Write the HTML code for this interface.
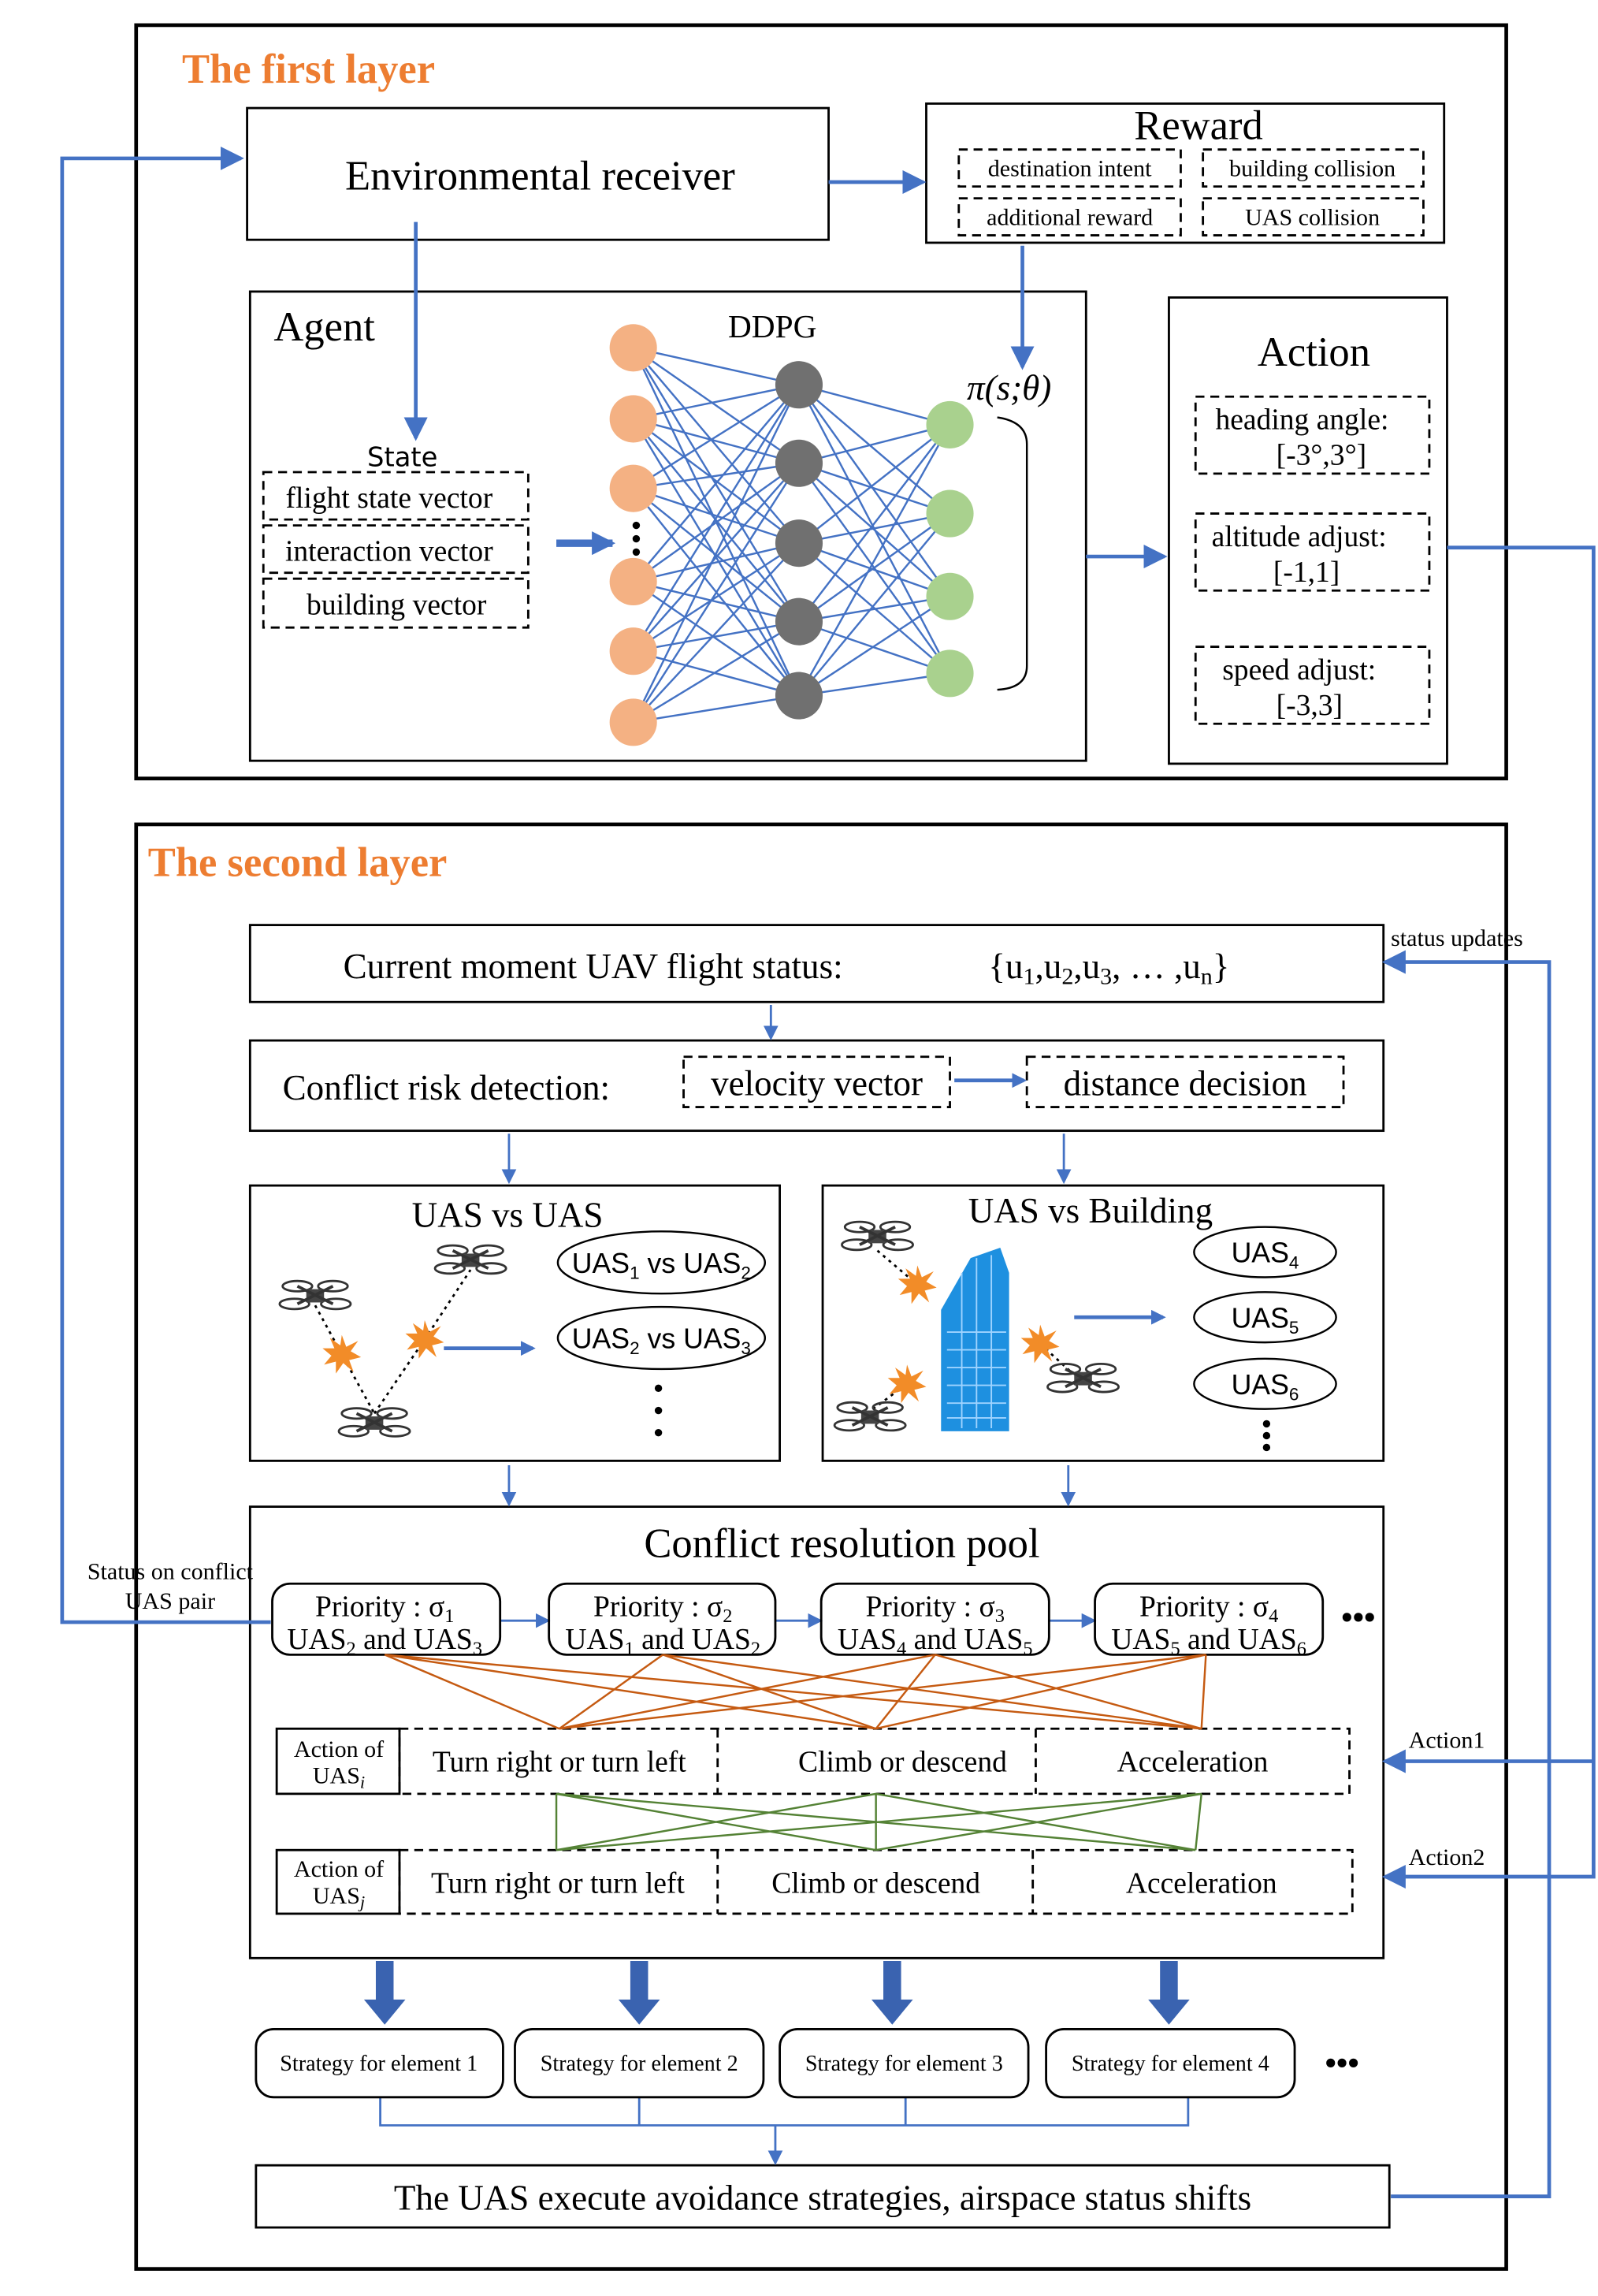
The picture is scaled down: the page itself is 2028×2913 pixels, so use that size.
<!DOCTYPE html>
<html><head><meta charset="utf-8"><style>html,body{margin:0;padding:0;background:#fff}svg{display:block}</style></head>
<body>
<svg width="2028" height="2913" viewBox="0 0 1080 1551.3" xmlns="http://www.w3.org/2000/svg" font-family="Liberation Serif, serif">
<defs>
<marker id="a" markerWidth="10" markerHeight="10" refX="8" refY="5" orient="auto" markerUnits="userSpaceOnUse"><path d="M0,0 L10,5 L0,10 z" fill="#4472C4"/></marker>
<marker id="b" markerWidth="16" markerHeight="16" refX="14" refY="8" orient="auto" markerUnits="userSpaceOnUse"><path d="M0,0 L16,8 L0,16 z" fill="#4472C4"/></marker>
<g id="dr">
<ellipse cx="-12" cy="-7" rx="10" ry="3.5" fill="none" stroke="#333" stroke-width="1.5"/>
<ellipse cx="12" cy="-7" rx="10" ry="3.5" fill="none" stroke="#333" stroke-width="1.5"/>
<ellipse cx="-14" cy="5" rx="10" ry="3.5" fill="none" stroke="#333" stroke-width="1.5"/>
<ellipse cx="14" cy="5" rx="10" ry="3.5" fill="none" stroke="#333" stroke-width="1.5"/>
<rect x="-6" y="-5" width="12" height="9" fill="#444"/>
<line x1="-12" y1="-7" x2="12" y2="5" stroke="#333" stroke-width="2"/>
<line x1="12" y1="-7" x2="-12" y2="5" stroke="#333" stroke-width="2"/>
</g>
<polygon id="ex" points="0,-13 3,-5 11,-9 6,-2 13,2 5,4 8,12 1,6 -4,13 -4,5 -12,7 -7,1 -13,-4 -5,-4 -8,-11 -1,-6" fill="#F28C28"/>
</defs>
<rect width="1080" height="1552" fill="#fff"/>
<g fill="none" stroke="#000" stroke-width="2.5">
<rect x="92" y="17" width="926" height="509"/>
<rect x="92" y="557" width="926" height="976"/>
</g>
<text x="123" y="56" font-size="28" font-weight="bold" fill="#ED7D31">The first layer</text>
<text x="100" y="592" font-size="28" font-weight="bold" fill="#ED7D31">The second layer</text>
<g fill="none" stroke="#000" stroke-width="1.5">
<rect x="167" y="73" width="393" height="89"/>
<rect x="626" y="70" width="350" height="94"/>
<rect x="169" y="197" width="565" height="317"/>
<rect x="790" y="201" width="188" height="315"/>
<rect x="169" y="625" width="766" height="52"/>
<rect x="169" y="703" width="766" height="61"/>
<rect x="169" y="801" width="358" height="186"/>
<rect x="556" y="801" width="379" height="186"/>
<rect x="169" y="1018" width="766" height="305"/>
<rect x="173" y="1463" width="766" height="42"/>
<rect x="187" y="1168" width="83" height="44"/>
<rect x="187" y="1250" width="83" height="43"/>
</g>
<g fill="none" stroke="#000" stroke-width="1.5" stroke-dasharray="6,4">
<rect x="648" y="101" width="150" height="25"/><rect x="813" y="101" width="149" height="25"/>
<rect x="648" y="134" width="150" height="25"/><rect x="813" y="134" width="149" height="25"/>
<rect x="178" y="319" width="179" height="32"/><rect x="178" y="355" width="179" height="32"/><rect x="178" y="391" width="179" height="33"/>
<rect x="808" y="268" width="158" height="52"/><rect x="808" y="347" width="158" height="52"/><rect x="808" y="437" width="158" height="52"/>
<rect x="462" y="714" width="180" height="34"/><rect x="694" y="714" width="214" height="34"/>
<rect x="270" y="1168" width="642" height="44"/>
<rect x="270" y="1250" width="644" height="43"/>
<line x1="485" y1="1168" x2="485" y2="1212"/><line x1="700" y1="1168" x2="700" y2="1212"/>
<line x1="485" y1="1250" x2="485" y2="1293"/><line x1="698" y1="1250" x2="698" y2="1293"/>
</g>
<g font-size="28" text-anchor="middle">
<text x="365" y="128">Environmental receiver</text>
<text x="810" y="94">Reward</text>
<text x="888" y="247">Action</text>
<text x="569" y="1052">Conflict resolution pool</text>
</g>
<text x="185" y="230" font-size="28">Agent</text>
<text x="522" y="228" font-size="22" text-anchor="middle">DDPG</text>
<text x="682" y="270" font-size="24" font-style="italic" text-anchor="middle">π(s;θ)</text>
<g font-size="16" text-anchor="middle">
<text x="723" y="119">destination intent</text><text x="887" y="119">building collision</text>
<text x="723" y="152">additional reward</text><text x="887" y="152">UAS collision</text>
</g>
<g font-size="20" text-anchor="middle">
<text x="272" y="315" font-family="DejaVu Sans, sans-serif" font-size="18">State</text>
<text x="263" y="343">flight state vector</text>
<text x="263" y="379">interaction vector</text>
<text x="268" y="415">building vector</text>
<text x="880" y="290">heading angle:</text><text x="893" y="314">[-3°,3°]</text>
<text x="878" y="369">altitude adjust:</text><text x="883" y="393">[-1,1]</text>
<text x="878" y="459">speed adjust:</text><text x="885" y="483">[-3,3]</text>
</g>
<text x="232" y="661" font-size="24">Current moment UAV flight status:</text>
<text x="668" y="661" font-size="24">{u<tspan font-size="16" dy="4">1</tspan><tspan dy="-4">,u</tspan><tspan font-size="16" dy="4">2</tspan><tspan dy="-4">,u</tspan><tspan font-size="16" dy="4">3</tspan><tspan dy="-4">, … ,u</tspan><tspan font-size="16" dy="4">n</tspan><tspan dy="-4">}</tspan></text>
<text x="191" y="743" font-size="24">Conflict risk detection:</text>
<text x="552" y="740" font-size="24" text-anchor="middle">velocity vector</text>
<text x="801" y="740" font-size="24" text-anchor="middle">distance decision</text>
<text x="343" y="829" font-size="24" text-anchor="middle">UAS vs UAS</text>
<text x="737" y="826" font-size="24" text-anchor="middle">UAS vs Building</text>
<!-- network -->
<g stroke="#4472C4" stroke-width="1.3">
<path d="M428,235L540,260M428,235L540,313M428,235L540,367M428,235L540,420M428,235L540,470M428,283L540,260M428,283L540,313M428,283L540,367M428,283L540,420M428,283L540,470M428,330L540,260M428,330L540,313M428,330L540,367M428,330L540,420M428,330L540,470M428,393L540,260M428,393L540,313M428,393L540,367M428,393L540,420M428,393L540,470M428,440L540,260M428,440L540,313M428,440L540,367M428,440L540,420M428,440L540,470M428,488L540,260M428,488L540,313M428,488L540,367M428,488L540,420M428,488L540,470M540,260L642,287M540,260L642,347M540,260L642,403M540,260L642,455M540,313L642,287M540,313L642,347M540,313L642,403M540,313L642,455M540,367L642,287M540,367L642,347M540,367L642,403M540,367L642,455M540,420L642,287M540,420L642,347M540,420L642,403M540,420L642,455M540,470L642,287M540,470L642,347M540,470L642,403M540,470L642,455"/>
</g>
<g fill="#F4B183"><circle cx="428" cy="235" r="16"/><circle cx="428" cy="283" r="16"/><circle cx="428" cy="330" r="16"/><circle cx="428" cy="393" r="16"/><circle cx="428" cy="440" r="16"/><circle cx="428" cy="488" r="16"/></g>
<g fill="#707070"><circle cx="540" cy="260" r="16"/><circle cx="540" cy="313" r="16"/><circle cx="540" cy="367" r="16"/><circle cx="540" cy="420" r="16"/><circle cx="540" cy="470" r="16"/></g>
<g fill="#A9D18E"><circle cx="642" cy="287" r="16"/><circle cx="642" cy="347" r="16"/><circle cx="642" cy="403" r="16"/><circle cx="642" cy="455" r="16"/></g>
<g fill="#000"><circle cx="430" cy="355" r="2.5"/><circle cx="430" cy="364" r="2.5"/><circle cx="430" cy="373" r="2.5"/></g>
<path d="M674,282 Q694,285 694,300 L694,450 Q694,465 674,466" fill="none" stroke="#000" stroke-width="1.3"/>
<!-- arrows -->
<g stroke="#4472C4" stroke-width="2.5" fill="none">
<line x1="560" y1="123" x2="624" y2="123" marker-end="url(#b)"/>
<line x1="281" y1="150" x2="281" y2="296" marker-end="url(#b)"/>
<line x1="691" y1="166" x2="691" y2="248" marker-end="url(#b)"/>
<line x1="734" y1="376" x2="787" y2="376" marker-end="url(#b)"/>
<line x1="376" y1="367" x2="414" y2="367" stroke-width="5" marker-end="url(#b)"/>
<polyline points="183,1096 42,1096 42,107 163,107" marker-end="url(#b)"/>
<polyline points="978,370 1077,370 1077,1268 936,1268" marker-end="url(#b)"/>
<line x1="1077" y1="1190" x2="936" y2="1190" marker-end="url(#b)"/>
<polyline points="940,1484 1047,1484 1047,650 936,650" marker-end="url(#b)"/>
<line x1="645" y1="730" x2="692" y2="730" marker-end="url(#a)"/>
<line x1="300" y1="911" x2="360" y2="911" marker-end="url(#a)"/>
<line x1="726" y1="890" x2="786" y2="890" marker-end="url(#a)"/>
</g>
<g stroke="#4472C4" stroke-width="1.5" fill="none">
<line x1="521" y1="679" x2="521" y2="701" marker-end="url(#a)"/>
<line x1="344" y1="766" x2="344" y2="798" marker-end="url(#a)"/>
<line x1="719" y1="766" x2="719" y2="798" marker-end="url(#a)"/>
<line x1="344" y1="990" x2="344" y2="1016" marker-end="url(#a)"/>
<line x1="722" y1="990" x2="722" y2="1016" marker-end="url(#a)"/>
<line x1="338" y1="1095" x2="370" y2="1095" marker-end="url(#a)"/>
<line x1="524" y1="1095" x2="554" y2="1095" marker-end="url(#a)"/>
<line x1="709" y1="1095" x2="739" y2="1095" marker-end="url(#a)"/>
<polyline points="257,1417 257,1436 803,1436 803,1417"/>
<line x1="432" y1="1417" x2="432" y2="1436"/><line x1="612" y1="1417" x2="612" y2="1436"/>
<line x1="524" y1="1436" x2="524" y2="1461" marker-end="url(#a)"/>
</g>
<g fill="#3A63B0">
<path d="M254,1325h12v26h8l-14,17l-14,-17h8z"/>
<path d="M426,1325h12v26h8l-14,17l-14,-17h8z"/>
<path d="M597,1325h12v26h8l-14,17l-14,-17h8z"/>
<path d="M784,1325h12v26h8l-14,17l-14,-17h8z"/>
</g>
<text x="940" y="639" font-size="16">status updates</text>
<text x="115" y="1067" font-size="16" text-anchor="middle">Status on conflict</text>
<text x="115" y="1087" font-size="16" text-anchor="middle">UAS pair</text>
<text x="952" y="1181" font-size="16">Action1</text>
<text x="952" y="1260" font-size="16">Action2</text>
<!-- ellipses -->
<g fill="none" stroke="#000" stroke-width="1.3">
<ellipse cx="447" cy="853" rx="70" ry="21"/><ellipse cx="447" cy="904" rx="70" ry="21"/>
<ellipse cx="855" cy="846" rx="48" ry="17"/><ellipse cx="855" cy="890" rx="48" ry="17"/><ellipse cx="855" cy="935" rx="48" ry="17"/>
</g>
<g font-family="Liberation Sans, sans-serif" font-size="19" text-anchor="middle">
<text x="447" y="860">UAS<tspan font-size="12" dy="4">1</tspan><tspan dy="-4"> vs UAS</tspan><tspan font-size="12" dy="4">2</tspan></text>
<text x="447" y="911">UAS<tspan font-size="12" dy="4">2</tspan><tspan dy="-4"> vs UAS</tspan><tspan font-size="12" dy="4">3</tspan></text>
<text x="855" y="853">UAS<tspan font-size="12" dy="4">4</tspan></text>
<text x="855" y="897">UAS<tspan font-size="12" dy="4">5</tspan></text>
<text x="855" y="942">UAS<tspan font-size="12" dy="4">6</tspan></text>
</g>
<g fill="#000"><circle cx="445" cy="938" r="2.5"/><circle cx="445" cy="953" r="2.5"/><circle cx="445" cy="968" r="2.5"/>
<circle cx="856" cy="962" r="2.5"/><circle cx="856" cy="970" r="2.5"/><circle cx="856" cy="978" r="2.5"/></g>
<!-- drones -->
<g stroke="#000" stroke-width="1.5" stroke-dasharray="2,3" fill="none">
<polyline points="213,882 231,915 253,955"/><polyline points="253,955 287,905 318,858"/>
<polyline points="593,845 620,868"/><polyline points="703,908 725,928"/><polyline points="590,952 613,935"/>
</g>
<use href="#dr" x="213" y="876"/><use href="#dr" x="318" y="852"/><use href="#dr" x="253" y="962"/>
<use href="#dr" x="593" y="836"/><use href="#dr" x="588" y="958"/><use href="#dr" x="732" y="932"/>
<use href="#ex" x="231" y="915"/><use href="#ex" x="287" y="905"/><use href="#ex" x="620" y="868"/><use href="#ex" x="703" y="908"/><use href="#ex" x="613" y="935"/>
<g>
<path d="M636,885 L656,850 L676,843 L682,860 L682,967 L636,967z" fill="#1E90E0"/>
<g stroke="#9fd3ff" stroke-width="1"><path d="M640,900H680M640,912H680M640,924H680M640,936H680M640,948H680M640,958H680M650,860V965M660,850V965M670,848V965"/></g>
</g>
<!-- priorities -->
<g fill="none" stroke="#000" stroke-width="1.5">
<rect x="184" y="1070" width="154" height="48" rx="12"/><rect x="371" y="1070" width="153" height="48" rx="12"/>
<rect x="555" y="1070" width="154" height="48" rx="12"/><rect x="740" y="1070" width="154" height="48" rx="12"/>
<rect x="173" y="1371" width="167" height="46" rx="12"/><rect x="348" y="1371" width="168" height="46" rx="12"/>
<rect x="527" y="1371" width="168" height="46" rx="12"/><rect x="707" y="1371" width="168" height="46" rx="12"/>
</g>
<g font-size="20" text-anchor="middle">
<text x="260" y="1092">Priority : σ<tspan font-size="13" dy="4">1</tspan></text>
<text x="260" y="1114">UAS<tspan font-size="13" dy="4">2</tspan><tspan dy="-4"> and UAS</tspan><tspan font-size="13" dy="4">3</tspan></text>
<text x="448" y="1092">Priority : σ<tspan font-size="13" dy="4">2</tspan></text>
<text x="448" y="1114">UAS<tspan font-size="13" dy="4">1</tspan><tspan dy="-4"> and UAS</tspan><tspan font-size="13" dy="4">2</tspan></text>
<text x="632" y="1092">Priority : σ<tspan font-size="13" dy="4">3</tspan></text>
<text x="632" y="1114">UAS<tspan font-size="13" dy="4">4</tspan><tspan dy="-4"> and UAS</tspan><tspan font-size="13" dy="4">5</tspan></text>
<text x="817" y="1092">Priority : σ<tspan font-size="13" dy="4">4</tspan></text>
<text x="817" y="1114">UAS<tspan font-size="13" dy="4">5</tspan><tspan dy="-4"> and UAS</tspan><tspan font-size="13" dy="4">6</tspan></text>
<text x="378" y="1197">Turn right or turn left</text><text x="610" y="1197">Climb or descend</text><text x="806" y="1197">Acceleration</text>
<text x="377" y="1279">Turn right or turn left</text><text x="592" y="1279">Climb or descend</text><text x="812" y="1279">Acceleration</text>
</g>
<g font-size="16" text-anchor="middle">
<text x="229" y="1187">Action of</text><text x="229" y="1205">UAS<tspan font-size="12" dy="3" font-style="italic">i</tspan></text>
<text x="229" y="1268">Action of</text><text x="229" y="1286">UAS<tspan font-size="12" dy="3" font-style="italic">j</tspan></text>
</g>
<g font-size="15" text-anchor="middle">
<text x="256" y="1399">Strategy for element 1</text><text x="432" y="1399">Strategy for element 2</text>
<text x="611" y="1399">Strategy for element 3</text><text x="791" y="1399">Strategy for element 4</text>
</g>
<text x="918" y="1100" font-size="22" font-weight="bold" text-anchor="middle">•••</text>
<text x="907" y="1401" font-size="22" font-weight="bold" text-anchor="middle">•••</text>
<text x="556" y="1493" font-size="24" text-anchor="middle">The UAS execute avoidance strategies, airspace status shifts</text>
<g stroke="#C55A11" stroke-width="1.3">
<path d="M260,1118L378,1168M260,1118L592,1168M260,1118L812,1168M448,1118L378,1168M448,1118L592,1168M448,1118L812,1168M632,1118L378,1168M632,1118L592,1168M632,1118L812,1168M815,1118L378,1168M815,1118L592,1168M815,1118L812,1168"/>
</g>
<g stroke="#548235" stroke-width="1.3">
<path d="M376,1212L376,1250M376,1212L592,1250M376,1212L808,1250M592,1212L376,1250M592,1212L592,1250M592,1212L808,1250M812,1212L376,1250M812,1212L592,1250M812,1212L808,1250"/>
</g>
</svg>
</body></html>
